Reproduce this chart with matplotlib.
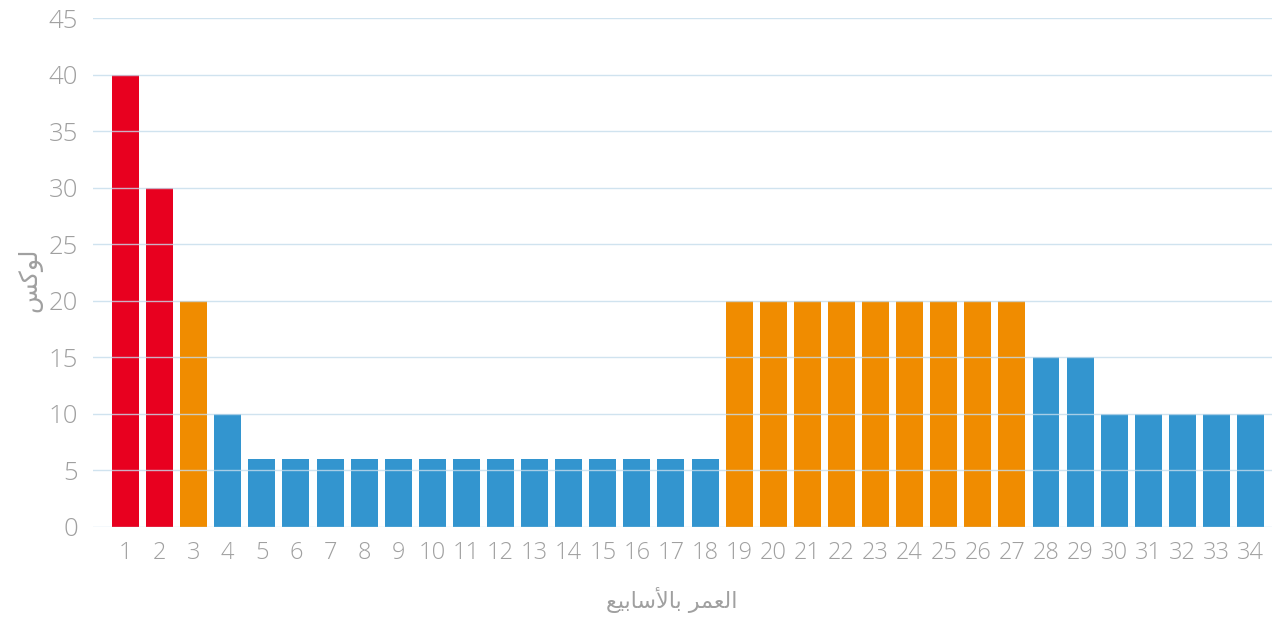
import matplotlib.pyplot as plt

weeks = list(range(1, 35))
lux = [40, 30, 20, 10] + [6] * 14 + [20] * 9 + [15, 15] + [10] * 5
# light level group per week: high / mid / low
group = ['high', 'high', 'mid'] + ['low'] * 15 + ['mid'] * 9 + ['low'] * 7
palette = {'high': '#E8001F', 'mid': '#F08C00', 'low': '#3395CF'}

# arabic labels, pre-shaped into presentation forms (visual order) since matplotlib does no shaping
xlab = '\uFECA\uFEF4\uFE91\uFE8E\uFEB3\uFEF7\uFE8E\uFE91 \uFEAE\uFEE4\uFECC\uFEDF\uFE8D'  # العمر بالأسابيع
ylab = '\uFEB2\uFEDB\uFEEE\uFEDF'  # لوكس

gray = '#A0A0A0'
plt.rcParams['font.family'] = ['Open Sans', 'DejaVu Sans']

fig = plt.figure(figsize=(12.72, 6.19), dpi=100)
ax = fig.add_axes([93 / 1272, 92 / 619, 1 - 93 / 1272, 509 / 619])

ax.bar(weeks, lux, width=0.79, color=[palette[g] for g in group], zorder=2)

ax.set_ylim(0, 45)
ax.set_xlim(0.047, 34.63)
ax.set_yticks(range(0, 50, 5))
ax.set_xticks(weeks)
ax.grid(axis='y', color='#C5DCEC', linewidth=1, alpha=0.8, zorder=3)
ax.set_axisbelow(False)
for s in ax.spines.values():
    s.set_visible(False)
ax.tick_params(axis='both', length=0, labelcolor=gray)
ax.tick_params(axis='x', pad=10, labelsize=17)
ax.tick_params(axis='y', pad=11, labelsize=18.5)
for t in ax.get_xticklabels() + ax.get_yticklabels():
    t.set_fontweight('light')

fig.text(672 / 1272, 1 - 600 / 619, xlab, ha='center', va='center', color=gray,
         fontsize=16, family=['DejaVu Sans'])
fig.text(30 / 1272, 1 - 280 / 619, ylab, ha='center', va='center', color=gray,
         fontsize=18, rotation=90, family=['DejaVu Sans'])

fig.savefig('out.png', dpi=100)
